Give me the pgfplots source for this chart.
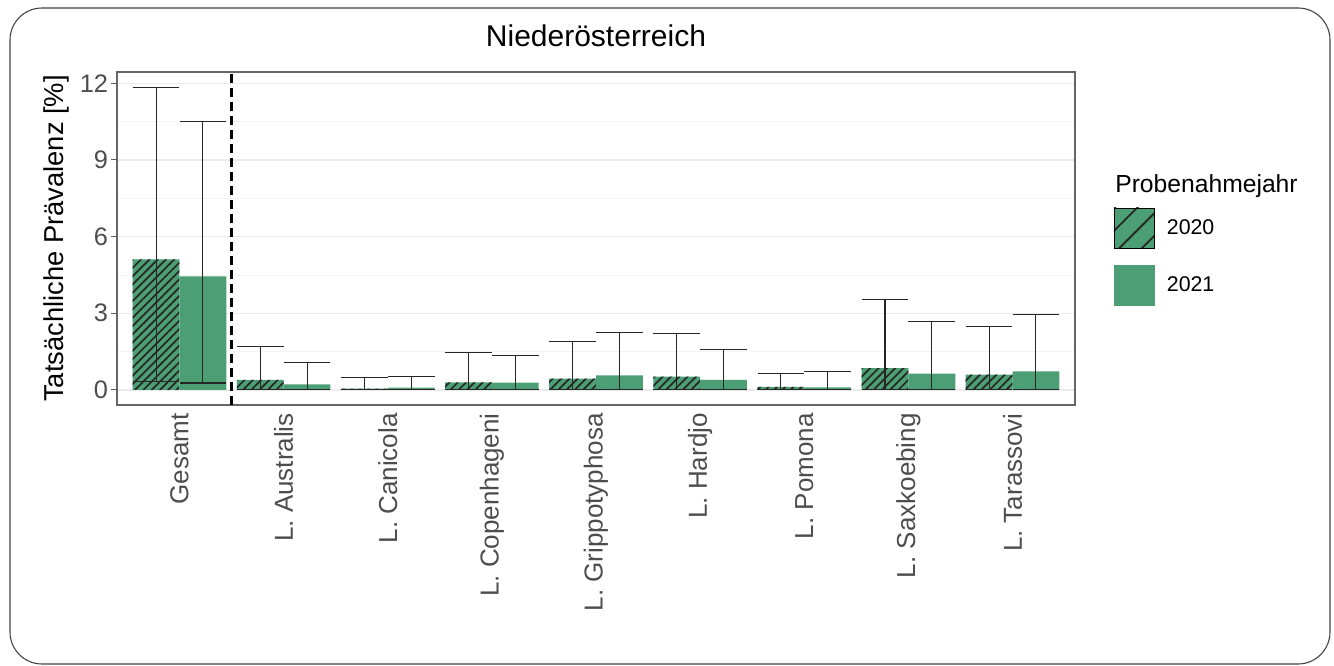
\documentclass[border=0pt]{standalone}
\usepackage{pgfplots}
\pgfplotsset{compat=1.18}
\usepackage{pgfplotstable}
\usepackage{fontspec}
\setmainfont{Liberation Sans}
\usetikzlibrary{patterns.meta}
\definecolor{ggreen}{RGB}{76,159,117}
\definecolor{gtext}{RGB}{77,77,77}

% x  y  ep (upper-y)  em (y-lower)
\pgfplotstableread{
x y ep em
0 5.11 6.72 4.78
1 0.39 1.30 0.39
2 0.05 0.43 0.05
3 0.30 1.17 0.30
4 0.44 1.45 0.44
5 0.52 1.68 0.52
6 0.12 0.51 0.12
7 0.85 2.67 0.85
8 0.60 1.89 0.60
}\dataA
\pgfplotstableread{
x y ep em
0 4.44 6.05 4.17
1 0.22 0.85 0.22
2 0.09 0.44 0.09
3 0.29 1.04 0.29
4 0.57 1.67 0.57
5 0.39 1.21 0.39
6 0.10 0.62 0.10
7 0.64 2.02 0.64
8 0.73 2.23 0.73
}\dataB

\begin{document}
\begin{tikzpicture}
\useasboundingbox (0,0) rectangle (1000.5pt,-499.5pt);
\draw[black!75, line width=0.8pt, rounded corners=24pt] (7.5pt,-6pt) rectangle (997.5pt,-498pt);
\begin{axis}[
  at={(87.75pt,-303.75pt)}, anchor=south west,
  width=718.5pt, height=249.75pt, scale only axis,
  xmin=-0.6, xmax=8.6, ymin=-0.59, ymax=12.44,
  xtick={0,...,8},
  xticklabels={Gesamt, L. Australis, L. Canicola, L. Copenhageni, L. Grippotyphosa, L. Hardjo, L. Pomona, L. Saxkoebing, L. Tarassovi},
  ytick={0,3,6,9,12},
  minor ytick={1.5,4.5,7.5,10.5},
  ymajorgrids, yminorgrids,
  major grid style={gray!16, line width=1pt},
  minor grid style={gray!9, line width=0.6pt},
  tick align=outside, tick pos=left,
  major tick length=4.5pt, minor tick length=0pt,
  ytick style={black!65, line width=0.8pt},
  xtick style={draw=none},
  axis line style={black!60, line width=0.8pt},
  /pgf/number format/assume math mode=true,
  yticklabel style={font=\fontsize{19}{22}\selectfont, text=gtext, inner sep=2pt},
  xticklabel style={font=\fontsize{19.5}{22}\selectfont, text=gtext, rotate=90, anchor=east, inner sep=1.5pt},
  ylabel={Tatsächliche Prävalenz [\%]},
  ylabel style={at={(axis description cs:-0.0637,0.5)}, anchor=center, font=\fontsize{20.5}{24}\selectfont},
  title={Niederösterreich},
  title style={at={(axis description cs:0.5,1.054)}, anchor=base, font=\fontsize{22.5}{26}\selectfont, inner sep=0pt},
  legend style={at={(axis description cs:1.0397,0.5946)}, anchor=north west, draw=none, fill=none,
    inner sep=0pt, outer sep=0pt, row sep=12pt, column sep=9pt,
    nodes={inner sep=0pt, anchor=west}, font=\fontsize{16}{19}\selectfont},
  legend cell align=left,
  clip=false,
]
\addplot[ybar, bar width=0.45, bar shift=-0.225, draw=none, fill=ggreen,
  postaction={pattern={Lines[angle=45,distance=4.4pt,line width=1.3pt]}, pattern color=black!85},
  forget plot] table[x=x,y=y] {\dataA};
\addplot[ybar, bar width=0.45, bar shift=0.225, draw=none, fill=ggreen, forget plot] table[x=x,y=y] {\dataB};

\addplot[draw=none, mark=none, forget plot,
  error bars/.cd, y dir=both, y explicit, error mark=|,
  error bar style={black!85, line width=0.8pt},
  error mark options={black!85, line width=0.8pt, mark size=17.5pt}]
  table[x expr=\thisrow{x}-0.225, y=y, y error plus=ep, y error minus=em] {\dataA};
\addplot[draw=none, mark=none, forget plot,
  error bars/.cd, y dir=both, y explicit, error mark=|,
  error bar style={black!85, line width=0.8pt},
  error mark options={black!85, line width=0.8pt, mark size=17.5pt}]
  table[x expr=\thisrow{x}+0.225, y=y, y error plus=ep, y error minus=em] {\dataB};

\addplot[black, line width=1.6pt, dash pattern=on 6.5pt off 4pt, forget plot] coordinates {(0.5,-0.59) (0.5,12.44)};

\addlegendimage{legend image code/.code={
  \fill[ggreen] (0pt,-15pt) rectangle (30pt,15pt);
  \fill[pattern={Lines[angle=45,distance=12pt,line width=1.4pt]}, pattern color=black!85] (0pt,-15pt) rectangle (30pt,15pt);}}
\addlegendentry{2020}
\addlegendimage{legend image code/.code={
  \fill[ggreen] (0pt,-15pt) rectangle (30pt,15pt);}}
\addlegendentry{2021}

\node[anchor=base west, inner sep=0pt, font=\fontsize{18.5}{22}\selectfont] at (axis description cs:1.0418,0.6396) {Probenahmejahr};
\end{axis}
\end{tikzpicture}
\end{document}
